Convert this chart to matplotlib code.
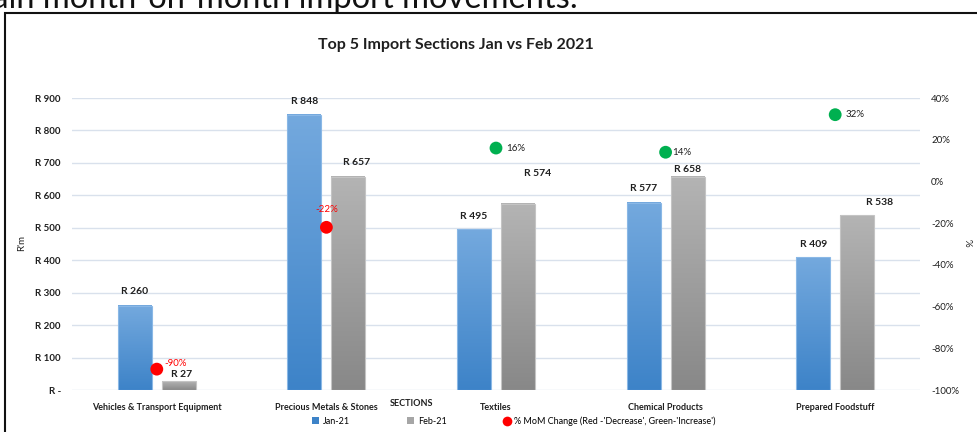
import matplotlib
matplotlib.use("Agg")  # no display in the sandbox
import matplotlib.pyplot as plt
import numpy as np
from matplotlib.colors import LinearSegmentedColormap
from matplotlib.lines import Line2D
from matplotlib.patches import Patch, Rectangle

# ---------------------------------------------------------------------------
# Data
# ---------------------------------------------------------------------------
sections = ["Vehicles & Transport Equipment", "Precious Metals & Stones",
            "Textiles", "Chemical Products", "Prepared Foodstuff"]
jan_21 = [260, 848, 495, 577, 409]
feb_21 = [27, 657, 574, 658, 538]
mom_change = [-90, -22, 16, 14, 32]

value_ticks = [0, 100, 200, 300, 400, 500, 600, 700, 800, 900]
value_tick_labels = ["R -", "R 100", "R 200", "R 300", "R 400",
                     "R 500", "R 600", "R 700", "R 800", "R 900"]
pct_ticks = [-100, -80, -60, -40, -20, 0, 20, 40]

# ---------------------------------------------------------------------------
# Style
# ---------------------------------------------------------------------------
W, H = 978, 432
FONT = ["Lato", "DejaVu Sans"]
plt.rcParams["font.family"] = FONT
TXT = "#1f1f1f"
GRID = "#d9e1ec"
BLUE_TOP, BLUE_BOT = "#74a9de", "#3d83c8"
GREY_TOP, GREY_BOT = "#b4b4b4", "#888888"

# label offsets in pixels (dx, dy) above each bar top
jan_offsets = [(0, 14), (0, 13), (0, 13), (0, 14), (0, 13)]
feb_offsets = [(3, 7), (8, 14), (20, 30), (0, 7), (22, 13)]
# (dx, dy, ha) for the % labels
pct_offsets = [(8, 6, "left"), (0, 18, "center"), (10, 0, "left"),
               (7, 0, "left"), (10, 0, "left")]


def px(x, y):
    """Pixel position (top-left origin) -> figure fraction."""
    return x / W, 1 - y / H


def gradient_bars(ax, xs, heights, width, top, bottom, edge):
    bars = ax.bar(xs, heights, width, facecolor="none", edgecolor=edge,
                  linewidth=0.8, zorder=3)
    cmap = LinearSegmentedColormap.from_list("grad", [bottom, top])
    grad = np.linspace(0, 1, 256).reshape(-1, 1)
    for b in bars:
        ax.imshow(grad, extent=[b.get_x(), b.get_x() + b.get_width(), 0, b.get_height()],
                  origin="lower", cmap=cmap, aspect="auto", zorder=2)
    return bars


fig = plt.figure(figsize=(W / 100, H / 100), dpi=100)

# outer chart frame and the cut-off heading above it
fig.add_artist(Rectangle(px(5, 460), 1.0, (460 - 13) / H, transform=fig.transFigure,
                         fill=False, edgecolor="#111111", linewidth=1.5))
fig.text(*px(578, 8), "Main month-on-month import movements:", ha="right",
         va="baseline", fontsize=23.5, color="#111111")

ax = fig.add_axes([72 / W, 1 - 390 / H, 848 / W, 292 / H])
x = np.arange(len(sections))
off = 0.13
bw = 0.2

gradient_bars(ax, x - off, jan_21, bw, BLUE_TOP, BLUE_BOT, "#8ab8e6")
gradient_bars(ax, x + off, feb_21, bw, GREY_TOP, GREY_BOT, "#c4c4c4")

for xi, v, (dx, dy) in zip(x - off, jan_21, jan_offsets):
    ax.annotate(f"R {v}", (xi, v), xytext=(dx, dy), textcoords="offset pixels",
                ha="center", va="center", fontsize=7.5, fontweight="bold", color=TXT)
for xi, v, (dx, dy) in zip(x + off, feb_21, feb_offsets):
    ax.annotate(f"R {v}", (xi, v), xytext=(dx, dy), textcoords="offset pixels",
                ha="center", va="center", fontsize=7.5, fontweight="bold", color=TXT)

ax.set_xlim(-0.5, len(sections) - 0.5)
ax.set_ylim(0, 900)
ax.set_yticks(value_ticks)
ax.set_yticklabels(value_tick_labels, fontsize=7, fontweight="bold", color=TXT)
ax.set_xticks(x)
ax.set_xticklabels(sections, fontsize=6.5, fontweight="bold", color=TXT)
ax.tick_params(axis="y", length=0, pad=8)
ax.tick_params(axis="x", length=0, pad=9)
ax.grid(axis="y", color=GRID, linewidth=1, zorder=0)
ax.set_axisbelow(True)
for s in ax.spines.values():
    s.set_visible(False)

# % MoM change on secondary axis
ax2 = ax.twinx()
ax2.set_ylim(-100, 40)
ax2.set_yticks(pct_ticks)
ax2.set_yticklabels([f"{t}%" for t in pct_ticks], fontsize=7, color=TXT)
ax2.tick_params(axis="y", length=0, pad=8)
for s in ax2.spines.values():
    s.set_visible(False)
dot_colors = ["#ff0000" if v < 0 else "#00b050" for v in mom_change]
ax2.scatter(x, mom_change, s=85, c=dot_colors, zorder=5, linewidths=0)
for xi, v, c, (dx, dy, ha) in zip(x, mom_change, dot_colors, pct_offsets):
    ax2.annotate(f"{v}%", (xi, v), xytext=(dx, dy), textcoords="offset pixels",
                 ha=ha, va="center", fontsize=7,
                 color="#ff0000" if v < 0 else TXT)

# titles and axis labels
fig.text(*px(456, 45), "Top 5 Import Sections Jan vs Feb 2021", ha="center",
         va="center", fontsize=11.5, fontweight="bold", color=TXT)
fig.text(*px(22, 243), "R'm", rotation=90, ha="center", va="center",
         fontsize=7, color=TXT)
fig.text(*px(967, 243), "%", rotation=270, ha="center", va="center",
         fontsize=7, color=TXT)
fig.text(*px(412, 403), "SECTIONS", ha="center", va="center", fontsize=6.5,
         fontweight="bold", color=TXT)

handles = [Patch(facecolor=BLUE_BOT, edgecolor="none"),
           Patch(facecolor="#a6a6a6", edgecolor="none"),
           Line2D([], [], marker="o", linestyle="none", markersize=7,
                  markerfacecolor="#ff0000", markeredgewidth=0)]
labels = ["Jan-21", "Feb-21", "% MoM Change (Red -'Decrease', Green-'Increase')"]
fig.legend(handles, labels, loc="center", bbox_to_anchor=px(514, 421), ncol=3,
           frameon=False, fontsize=6.5, handlelength=0.8, handleheight=0.7,
           handletextpad=0.4, columnspacing=6.3, borderpad=0)

fig.savefig("out.png", dpi=100)
